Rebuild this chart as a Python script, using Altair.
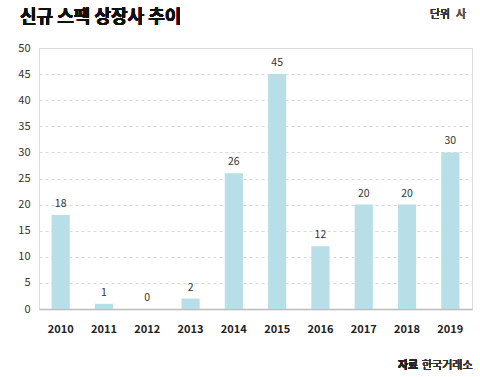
import altair as alt
import pandas as pd

years = ["2010", "2011", "2012", "2013", "2014", "2015", "2016", "2017", "2018", "2019"]
counts = [18, 1, 0, 2, 26, 45, 12, 20, 20, 30]

df = pd.DataFrame({"year": years, "count": counts})
FONT = "Noto Sans CJK KR"

base = alt.Chart(df).encode(
    x=alt.X("year:N", sort=years, title=None,
            scale=alt.Scale(paddingInner=0.58, paddingOuter=0.29),
            axis=alt.Axis(labelAngle=0, labelFont=FONT, labelFontWeight="bold",
                          labelFontSize=11, labelColor="#222222", labelPadding=14,
                          ticks=False, domain=True, domainColor="#bbbbbb",
                          domainWidth=1.5, grid=False)),
    y=alt.Y("count:Q", title=None,
            scale=alt.Scale(domain=[0, 50], nice=False),
            axis=alt.Axis(values=list(range(0, 55, 5)), labelFont=FONT,
                          labelFontSize=11, labelColor="#333333", labelPadding=9,
                          ticks=False, domain=False, grid=True, gridColor="#d9d9d9",
                          gridDash=[3, 3], gridWidth=1)),
)

bars = base.mark_bar(color="#b8dfe8")
labels = base.mark_text(font=FONT, fontSize=10.5, color="#333333", baseline="bottom", dy=-6).encode(
    text="count:Q")

title = alt.Chart(df).mark_text(font=FONT, fontSize=18, fontWeight="bold", color="#111111",
                                align="left", baseline="middle").encode(
    x=alt.value(-19), y=alt.value(-30), text=alt.value("신규 스팩 상장사 추이"))
unit = alt.Chart(df).mark_text(font=FONT, fontSize=11, color="#333333",
                               align="left", baseline="middle").encode(
    x=alt.value(391), y=alt.value(-33), text=alt.value("단위"))
unit2 = alt.Chart(df).mark_text(font=FONT, fontSize=11, color="#555555",
                                align="left", baseline="middle").encode(
    x=alt.value(417), y=alt.value(-33), text=alt.value("사"))
src = alt.Chart(df).mark_text(font=FONT, fontSize=11, color="#222222", fontWeight="bold",
                              align="left", baseline="middle").encode(
    x=alt.value(359), y=alt.value(318), text=alt.value("자료"))
src2 = alt.Chart(df).mark_text(font=FONT, fontSize=11, color="#333333",
                               align="left", baseline="middle").encode(
    x=alt.value(383), y=alt.value(318), text=alt.value("한국거래소"))

chart = alt.layer(bars, labels, title, unit, unit2, src, src2).properties(
    width=433, height=261,
    autosize=alt.AutoSizeParams(type="none"),
    padding={"left": 39, "top": 48, "right": 8, "bottom": 68},
).configure_view(stroke=None).configure(background="white")

chart.save("out.html", embed_options={"renderer": "svg", "actions": False})
